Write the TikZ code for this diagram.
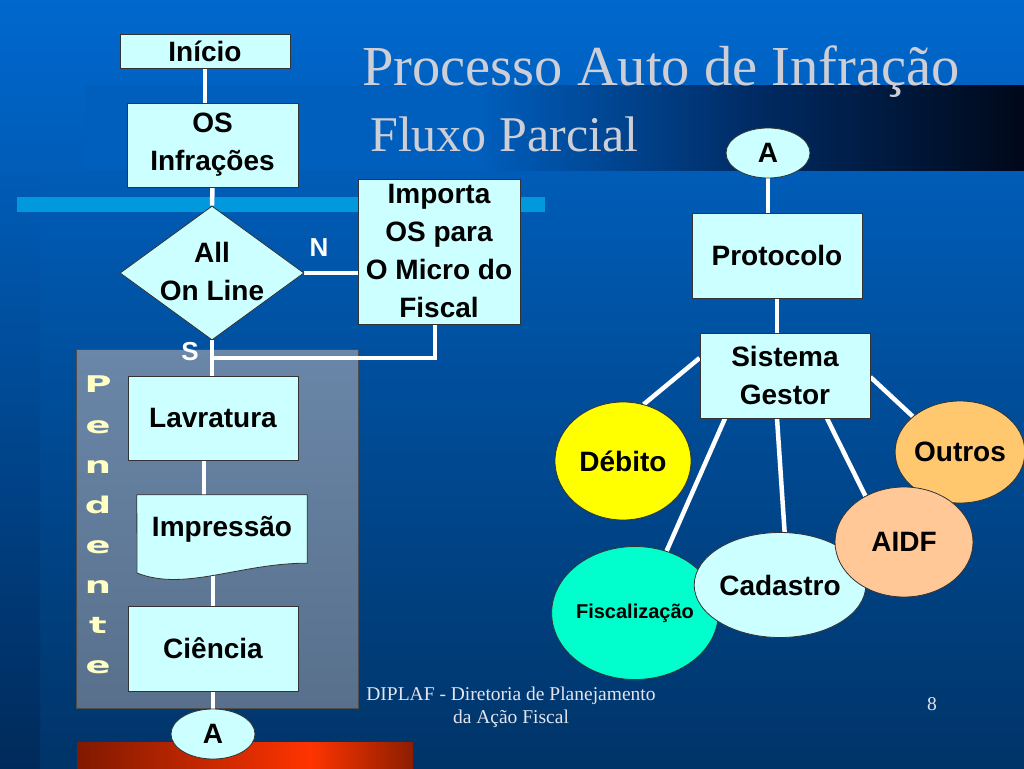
\documentclass[tikz,border=0pt]{standalone}
\usepackage{fontspec}
\setmainfont{Liberation Serif}
\newfontfamily\arialf{Liberation Sans}
\newfontfamily\dejab{DejaVu Sans}
\usetikzlibrary{shapes.geometric}
\pgfdeclarelayer{bgl}
\pgfdeclarelayer{lnl}
\pgfsetlayers{bgl,lnl,main}
\definecolor{boxc}{RGB}{204,255,255}
\definecolor{bgtop}{RGB}{0,104,206}
\definecolor{bgbot}{RGB}{0,52,104}
\definecolor{stripTop}{RGB}{0,92,183}
\definecolor{stripBot}{RGB}{0,42,90}
\definecolor{tb1}{RGB}{0,94,188}
\definecolor{tb2}{RGB}{0,42,98}
\definecolor{tb3}{RGB}{0,8,25}
\definecolor{lbar}{RGB}{0,153,222}
\definecolor{red1}{RGB}{128,25,0}
\definecolor{red2}{RGB}{255,52,0}
\definecolor{red3}{RGB}{140,30,0}
\definecolor{panTop}{RGB}{106,134,168}
\definecolor{panBot}{RGB}{88,112,140}
\definecolor{pendc}{RGB}{255,255,196}
\definecolor{titc}{RGB}{206,206,214}
\definecolor{footc}{RGB}{228,228,238}
\definecolor{debc}{RGB}{255,255,0}
\definecolor{outc}{RGB}{255,200,110}
\definecolor{aidfc}{RGB}{255,200,150}
\definecolor{fisc}{RGB}{0,255,204}
\newcommand\nf{\arialf\bfseries\fontsize{28}{38}\selectfont}
\newcommand\pl[1]{\scalebox{1.6}[1]{#1}}
\begin{document}
\begin{tikzpicture}[x=1pt,y=-1pt,
  fbox/.style={rectangle, draw=black!80, line width=0.8pt, fill=boxc, inner sep=0pt, font=\nf, align=center},
  ell/.style={ellipse, draw=black!80, line width=0.8pt, inner sep=0pt, font=\nf, align=center},
  conn/.style={draw=white, line width=4.5pt},
  lab/.style={text=white, font=\arialf\bfseries\fontsize{26}{30}\selectfont, inner sep=0pt}]
\useasboundingbox (0,0) rectangle (1024,768);
\begin{pgfonlayer}{bgl}
  \shade[top color=bgtop, bottom color=bgbot] (0,0) rectangle (1024,768);
  \shade[top color=stripTop, bottom color=stripBot] (0,170) rectangle (40,768);
  \fill[tb1] (85,85) rectangle (480,170);
  \shade[left color=tb1, right color=tb2] (480,85) rectangle (760,170);
  \shade[left color=tb2, right color=tb3] (760,85) rectangle (1024,170);
  \fill[lbar] (17,197) rectangle (545,212);
  \shade[left color=red1, right color=red2] (77,742) rectangle (310,768);
  \shade[left color=red2, right color=red3] (310,742) rectangle (413,768);
  \node[rectangle, draw=black!70, line width=0.8pt, top color=panTop, bottom color=panBot,
        minimum width=282pt, minimum height=359pt, inner sep=0pt] (panel) at (217,528.5) {};
\end{pgfonlayer}

% title
\node[anchor=base west, inner sep=0pt, text=titc, font=\fontsize{56.5}{60}\selectfont] (title) at (362,85) {Processo Auto de Infração};
\node[anchor=base west, inner sep=0pt, text=titc, font=\fontsize{50}{54}\selectfont] (subtitle) at (370,151) {Fluxo Parcial};

% left flow
\node[fbox, minimum width=170pt, minimum height=34pt] (ini) at (205,51) {Início};
\node[fbox, minimum width=171pt, minimum height=84pt] (os) at (212.5,145) {OS\\Infrações};
\node[diamond, draw=black!80, line width=0.8pt, fill=boxc, inner sep=0pt, minimum width=184pt, minimum height=134pt] (dec) at (212,273) {};
\node[font=\nf, align=center, inner sep=0pt] (dect) at (212,271) {All\\On Line};
\node[fbox, minimum width=162pt, minimum height=145pt] (imp) at (439,251.5) {Importa\\OS para\\O Micro do\\Fiscal};
\node[lab] (nlab) at (319,248) {N};
\node[lab] (slab) at (190,352) {S};
\coordinate (sj) at (213,358);

\node[fbox, minimum width=170pt, minimum height=84pt] (lav) at (213,418) {Lavratura};
\node[rectangle, inner sep=0pt, minimum width=170pt, minimum height=68pt] (prt) at (222,529) {};
\draw[draw=black!80, line width=0.8pt, fill=boxc] (prt.north west) -- (prt.north east) -- (prt.south east)
   .. controls (240,563) and (185,592) .. (137,573) -- cycle;
\node[font=\nf, inner sep=0pt] (prtt) at (prt.center) {Impressão};
\node[fbox, minimum width=170pt, minimum height=85pt] (cie) at (213,648.5) {Ciência};
\node[ell, fill=boxc, minimum width=84pt, minimum height=50pt] (abot) at (213,734) {A};

\node[anchor=north, inner sep=0pt, align=center, text=pendc, font=\dejab\bfseries\fontsize{23}{40.1}\selectfont] (pend) at (98,376)
  {\pl{P}\\\pl{e}\\\pl{n}\\\pl{d}\\\pl{e}\\\pl{n}\\\pl{t}\\\pl{e}};

% right flow
\node[ell, fill=boxc, minimum width=84pt, minimum height=50pt] (atop) at (768,153) {A};
\node[fbox, minimum width=170pt, minimum height=85pt] (prot) at (777,255.5) {Protocolo};
\node[fbox, minimum width=170pt, minimum height=85pt] (sg) at (785,375.5) {Sistema\\Gestor};
\node[ell, fill=debc, minimum width=136pt, minimum height=118pt] (deb) at (623,461) {Débito};
\node[ell, fill=outc, minimum width=128pt, minimum height=102pt] (out) at (960,452) {Outros};
\node[ell, fill=fisc, minimum width=161pt, minimum height=133pt, font=\arialf\bfseries\fontsize{20}{24}\selectfont] (fis) at (635,613) {Fiscalização};
\node[ell, fill=boxc, minimum width=162pt, minimum height=105pt] (cad) at (780,585) {Cadastro};
\node[ell, fill=aidfc, minimum width=138pt, minimum height=110pt] (aidf) at (904,542) {AIDF};

% footer
\node[anchor=north, inner sep=0pt, align=center, text=footc, font=\fontsize{19.5}{23.5}\selectfont] (foot) at (511,686.5)
  {DIPLAF - Diretoria de Planejamento\\da Ação Fiscal};
\node[anchor=base, inner sep=0pt, text=footc, font=\fontsize{19.5}{23.5}\selectfont] (pnum) at (932,710) {8};

% connectors
\begin{pgfonlayer}{lnl}
  \draw[conn] (ini.south) -- (ini.south |- os.north);
  \draw[conn] (os.south) -- (dec.north);
  \draw[conn] (dec.east) -- (dec.east -| imp.west);
  \draw[conn] ([xshift=-4pt]imp.south) |- (sj);
  \draw[conn] (dec.south) -- (dec.south |- lav.north);
  \draw[conn] ([xshift=-9pt]lav.south) -- ([xshift=-9pt]lav.south |- prt.north);
  \draw[conn] (cie.north |- prt.south) -- (cie.north);
  \draw[conn] (cie.south) -- (abot.north);
  \draw[conn] (atop.south) -- (atop.south |- prot.north);
  \draw[conn] (prot.south) -- (prot.south |- sg.north);
  \draw[conn] ([yshift=17.5pt]sg.west) -- (deb.70);
  \draw[conn] ([yshift=-1.5pt]sg.east) -- (out.143);
  \draw[conn] ([xshift=42pt]sg.south) -- (aidf.130);
  \draw[conn] ([xshift=-8pt]sg.south) -- (cad.85);
  \draw[conn] ([xshift=-60pt]sg.south) -- (fis.63);
\end{pgfonlayer}
\end{tikzpicture}
\end{document}
